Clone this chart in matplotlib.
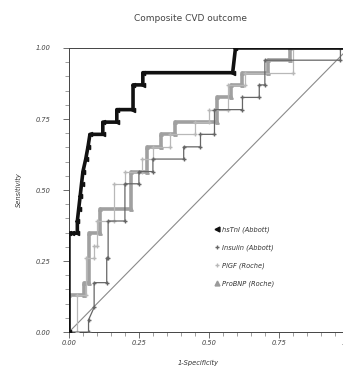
import numpy as np
import matplotlib
matplotlib.use("Agg")
import matplotlib.pyplot as plt
from matplotlib.lines import Line2D

# ROC step curves (x = 1-specificity, y = sensitivity)
hstni_x = [0.0, 0.0, 0.01, 0.03, 0.03, 0.035, 0.04, 0.045, 0.05, 0.06, 0.068, 0.075,
           0.121, 0.121, 0.171, 0.171, 0.229, 0.229, 0.264, 0.264, 0.585, 0.595, 1.0]
hstni_y = [0.0, 0.348, 0.348, 0.348, 0.391, 0.435, 0.478, 0.522, 0.565, 0.609, 0.652, 0.696,
           0.696, 0.739, 0.739, 0.783, 0.783, 0.870, 0.870, 0.913, 0.913, 1.0, 1.0]

insulin_x = [0.0, 0.07, 0.07, 0.09, 0.09, 0.135, 0.135, 0.14, 0.14, 0.2, 0.2, 0.25, 0.25,
             0.3, 0.3, 0.41, 0.41, 0.47, 0.47, 0.52, 0.52, 0.62, 0.62, 0.68, 0.68, 0.7,
             0.7, 0.97, 0.97, 1.0]
insulin_y = [0.0, 0.0, 0.043, 0.087, 0.174, 0.174, 0.261, 0.261, 0.391, 0.391, 0.522, 0.522,
             0.565, 0.565, 0.609, 0.609, 0.652, 0.652, 0.696, 0.696, 0.783, 0.783, 0.826,
             0.826, 0.87, 0.87, 0.957, 0.957, 1.0, 1.0]

plgf_x = [0.0, 0.03, 0.03, 0.06, 0.06, 0.09, 0.09, 0.1, 0.1, 0.16, 0.16, 0.2, 0.2, 0.26,
          0.26, 0.3, 0.3, 0.36, 0.36, 0.45, 0.45, 0.5, 0.5, 0.57, 0.57, 0.63, 0.63, 0.8,
          0.8, 1.0]
plgf_y = [0.0, 0.0, 0.13, 0.13, 0.261, 0.261, 0.304, 0.304, 0.391, 0.391, 0.522, 0.522,
          0.565, 0.565, 0.609, 0.609, 0.652, 0.652, 0.696, 0.696, 0.739, 0.739, 0.783,
          0.783, 0.87, 0.87, 0.913, 0.913, 1.0, 1.0]

probnp_x = [0.0, 0.0, 0.055, 0.055, 0.07, 0.07, 0.11, 0.11, 0.22, 0.22, 0.28, 0.28, 0.33,
            0.33, 0.38, 0.38, 0.53, 0.53, 0.58, 0.58, 0.62, 0.62, 0.71, 0.71, 0.79, 0.79, 1.0]
probnp_y = [0.0, 0.13, 0.13, 0.174, 0.174, 0.348, 0.348, 0.435, 0.435, 0.565, 0.565, 0.652,
            0.652, 0.696, 0.696, 0.739, 0.739, 0.826, 0.826, 0.87, 0.87, 0.913, 0.913, 0.957,
            0.957, 1.0, 1.0]

labels = ["hsTnI (Abbott)", "Insulin (Abbott)", "PlGF (Roche)", "ProBNP (Roche)"]
ticks = [0.0, 0.25, 0.5, 0.75, 1.0]
tick_labels = ["0.00", "0.25", "0.50", "0.75", "1.00"]

fig = plt.figure(figsize=(3.43, 3.69), dpi=100)
ax = fig.add_axes([0.201, 0.100, 0.816, 0.770])

ax.plot([0, 1], [0, 1], color="#8a8a8a", lw=0.8, zorder=1)

ax.plot(probnp_x, probnp_y, color="#a0a0a0", lw=2.6, marker="^", ms=2.5, zorder=2)
ax.plot(plgf_x, plgf_y, color="#b8b8b8", lw=0.9, marker="+", ms=3, zorder=3)
ax.plot(insulin_x, insulin_y, color="#666666", lw=0.9, marker="+", ms=3, zorder=4)
ax.plot(hstni_x, hstni_y, color="#111111", lw=2.6, marker="<", ms=3, zorder=5)

ax.set_xlim(0, 1)
ax.set_ylim(0, 1)
ax.set_xticks(ticks)
ax.set_xticklabels(tick_labels)
ax.set_yticks(ticks)
ax.set_yticklabels(tick_labels)
ax.set_xticks(np.arange(0, 1.001, 0.05), minor=True)
ax.set_yticks(np.arange(0, 1.001, 0.05), minor=True)
ax.tick_params(which="major", length=4.3, width=0.6, color="#555555", labelsize=4.8,
               labelcolor="#444444")
ax.tick_params(which="minor", length=2.6, width=0.5, color="#777777")
ax.tick_params(axis="y", which="major", pad=9)
ax.tick_params(axis="x", which="major", pad=1.5)
for lab in ax.get_xticklabels() + ax.get_yticklabels():
    lab.set_fontstyle("italic")

for s in ax.spines.values():
    s.set_linewidth(0.7)
    s.set_color("#444444")

handles = [
    Line2D([], [], ls="none", marker="<", color="#111111", ms=3.5),
    Line2D([], [], ls="none", marker="+", color="#666666", ms=3.5),
    Line2D([], [], ls="none", marker="+", color="#b8b8b8", ms=3.5),
    Line2D([], [], ls="none", marker="^", color="#9a9a9a", ms=3.5),
]
leg = ax.legend(handles, labels, loc="upper left", bbox_to_anchor=(0.51, 0.385),
                frameon=False, fontsize=4.8, handlelength=0.6, handletextpad=0.4,
                labelspacing=1.75, borderpad=0)
for t in leg.get_texts():
    t.set_fontstyle("italic")
    t.set_color("#333333")

fig.text(0.554, 0.951, "Composite CVD outcome", ha="center", va="center",
         fontsize=6.5, color="#444444")
fig.text(0.577, 0.016, "1-Specificity", ha="center", va="center",
         fontsize=4.8, style="italic", color="#333333")
fig.text(0.055, 0.485, "Sensitivity", ha="center", va="center", rotation=90,
         fontsize=4.8, style="italic", color="#333333")

fig.savefig("out.png", dpi=100)
